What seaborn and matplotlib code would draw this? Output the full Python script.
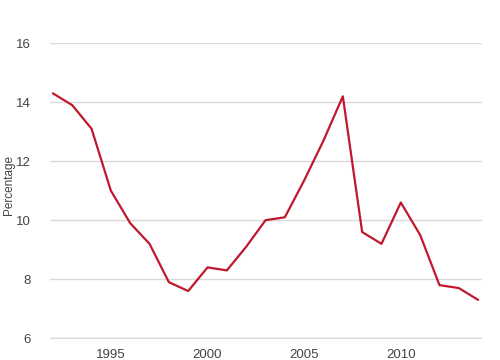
import numpy as np
import pandas as pd
import matplotlib.pyplot as plt
import seaborn as sns

# Values
years = list(range(1992, 2015))
percentage = [14.3, 13.9, 13.1, 11.0, 9.9, 9.2, 7.9, 7.6, 8.4, 8.3, 9.1, 10.0,
              10.1, 11.35, 12.7, 14.2, 9.6, 9.2, 10.6, 9.5, 7.8, 7.7, 7.3]
xticks = [1995, 2000, 2005, 2010]
yticks = [6, 8, 10, 12, 14, 16]

df = pd.DataFrame({'year': years, 'Percentage': percentage})

sns.set_style('white')
plt.rcParams['font.family'] = ['Liberation Sans', 'DejaVu Sans']

fig = plt.figure(figsize=(5, 3.6), dpi=100)
ax = fig.add_axes([0.10, 0.058, 0.864, 0.822])

sns.lineplot(data=df, x='year', y='Percentage', color='#c0182c', linewidth=1.6, ax=ax)

ax.set_xlim(1991.85, 2014.2)
ax.set_ylim(5.97, 16)
ax.set_xticks(xticks)
ax.set_yticks(yticks)
ax.yaxis.grid(True, color='#d9d9d9', linewidth=1)
ax.axhline(6, color='#c4c4c4', linewidth=1, zorder=0)
ax.set_axisbelow(True)
for s in ax.spines.values():
    s.set_visible(False)

ax.tick_params(axis='y', length=0, pad=14, labelsize=9.5, labelcolor='#444444')
ax.tick_params(axis='x', length=5, width=0.8, color='#bbbbbb', pad=2,
               labelsize=9.5, labelcolor='#444444')
ax.set_xlabel('')
ax.set_ylabel('Percentage', fontsize=8.5, color='#444444')
ax.yaxis.set_label_coords(-0.08, 0.52)

fig.savefig('out.png', dpi=100)
